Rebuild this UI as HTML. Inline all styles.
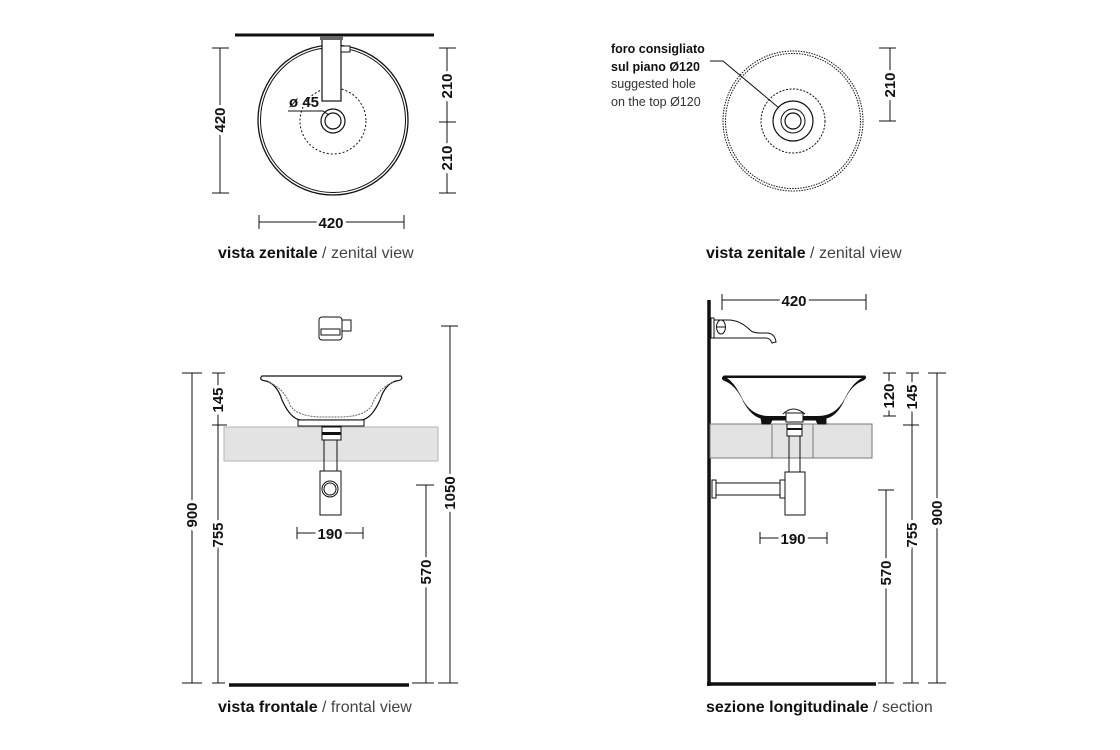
<!DOCTYPE html>
<html><head><meta charset="utf-8"><style>
html,body{margin:0;padding:0;background:#fff;}
svg{display:block;}
.d{font-family:"Liberation Sans Narrow","Liberation Sans",sans-serif;font-size:15px;fill:#111;font-weight:600;}
.t{font-family:"Liberation Sans Narrow","Liberation Sans",sans-serif;font-size:12.5px;fill:#111;}
.c{font-family:"Liberation Sans","DejaVu Sans",sans-serif;font-size:16px;fill:#111;}
.bg{paint-order:stroke;stroke:#fff;stroke-width:6px;}
</style></head><body>
<svg width="1120" height="750" viewBox="0 0 1120 750" xmlns="http://www.w3.org/2000/svg">
<g stroke="#111" fill="none" stroke-width="1">

<!-- ===== TOP LEFT ===== -->
<line x1="235" y1="35" x2="434" y2="35" stroke-width="3"/>
<circle cx="333" cy="120" r="75" stroke-width="1.3"/>
<circle cx="333" cy="120" r="72.5" stroke-width="1"/>
<circle cx="333" cy="121" r="33" stroke-dasharray="2,2"/>
<rect x="322" y="38" width="19" height="63" fill="#fff" stroke-width="1.2"/>
<rect x="320" y="36" width="23" height="4" fill="#666" stroke="none"/>
<rect x="341" y="46" width="9" height="6" fill="#fff"/>
<circle cx="333" cy="121" r="12" stroke-width="1.2"/>
<circle cx="333" cy="121" r="8" stroke-width="1.2"/>
<polyline points="288,111 323,111 329,115"/>
<line x1="220" y1="48" x2="220" y2="193"/>
<line x1="212" y1="48" x2="229" y2="48"/><line x1="212" y1="193" x2="229" y2="193"/>
<line x1="447" y1="48" x2="447" y2="193"/>
<line x1="439" y1="48" x2="456" y2="48"/><line x1="439" y1="122" x2="456" y2="122"/><line x1="439" y1="193" x2="456" y2="193"/>
<line x1="259" y1="222" x2="404" y2="222"/>
<line x1="259" y1="215" x2="259" y2="229"/><line x1="404" y1="215" x2="404" y2="229"/>

<!-- ===== TOP RIGHT ===== -->
<circle cx="793" cy="121" r="70" stroke-dasharray="1.5,1.2"/>
<circle cx="793" cy="121" r="67.5" stroke-dasharray="1.5,1.2"/>
<circle cx="793" cy="121" r="32" stroke-dasharray="2,1.5"/>
<circle cx="793" cy="121" r="20" stroke-width="1.2"/>
<circle cx="793" cy="121" r="12"/>
<circle cx="793" cy="121" r="8" stroke-width="1.2"/>
<polyline points="710,61 723,61 779,108"/>
<line x1="890" y1="48" x2="890" y2="121"/>
<line x1="879" y1="48" x2="896" y2="48"/><line x1="879" y1="121" x2="896" y2="121"/>

<!-- ===== BOTTOM LEFT ===== -->
<rect x="319" y="317" width="23" height="23" rx="3"/>
<rect x="321" y="329" width="19" height="6"/>
<rect x="342" y="320" width="9" height="11"/>
<rect x="224" y="427" width="214" height="34" fill="#e3e3e3" stroke="#b5b5b5"/>
<path d="M262,376 L401,376 Q404,380 396,381 Q385,384 380,400 Q372,418 362,420 L300,420 Q290,418 282,400 Q277,384 266,381 Q258,380 262,376 Z" fill="#fff" stroke-width="1.2"/>
<path d="M268,382 Q284,388 290,405 Q296,416 320,417 L342,417 Q366,416 372,405 Q378,388 394,382" stroke="#666" stroke-dasharray="2,1"/>
<rect x="298" y="420" width="66" height="6" fill="#fff"/>
<rect x="322" y="427" width="19" height="13" fill="#fff"/>
<rect x="322" y="432" width="19" height="3" fill="#111" stroke="none"/>
<line x1="324" y1="440" x2="324" y2="471"/><line x1="337" y1="440" x2="337" y2="471"/>
<rect x="320" y="471" width="21" height="44" fill="#fff"/>
<circle cx="330" cy="489" r="8"/><circle cx="330" cy="489" r="6"/>
<line x1="229" y1="685" x2="409" y2="685" stroke-width="3.5"/>
<line x1="192" y1="373" x2="192" y2="683"/>
<line x1="182" y1="373" x2="202" y2="373"/><line x1="182" y1="683" x2="202" y2="683"/>
<line x1="218" y1="373" x2="218" y2="683"/>
<line x1="212" y1="373" x2="225" y2="373"/><line x1="212" y1="425" x2="227" y2="425"/><line x1="212" y1="683" x2="225" y2="683"/>
<line x1="426" y1="485" x2="426" y2="683"/>
<line x1="416" y1="485" x2="434" y2="485"/><line x1="412" y1="683" x2="434" y2="683"/>
<line x1="450" y1="326" x2="450" y2="683"/>
<line x1="441" y1="326" x2="458" y2="326"/><line x1="438" y1="683" x2="458" y2="683"/>
<line x1="297" y1="533" x2="363" y2="533"/>
<line x1="297" y1="527" x2="297" y2="539"/><line x1="363" y1="527" x2="363" y2="539"/>

<!-- ===== BOTTOM RIGHT ===== -->
<line x1="709" y1="300" x2="709" y2="686" stroke-width="3.5"/>
<line x1="707" y1="684" x2="876" y2="684" stroke-width="3.5"/>
<rect x="711" y="318" width="3" height="20" fill="#fff"/>
<ellipse cx="721" cy="327" rx="4.5" ry="7" fill="#fff"/>
<line x1="716" y1="327" x2="726" y2="327"/>
<path d="M714,320 L728,320 Q740,320 750,330 Q753,333 760,333 L768,333 Q775,334 776,342 L772,343 Q770,338 766,338 L728,338 L714,338"/>
<rect x="710" y="424" width="162" height="34" fill="#e3e3e3" stroke="#777"/>
<line x1="772" y1="424" x2="772" y2="458" stroke="#777"/><line x1="813" y1="424" x2="813" y2="458" stroke="#777"/>
<path d="M724,376 L865,376 Q867,379 861,381 Q850,386 843,402 Q836,416 826,418 L826,424 L818,424 L816,420 L772,420 L770,424 L762,424 L761,418 Q752,416 744,402 Q737,386 726,381 Q720,379 724,376 Z" fill="#111"/>
<path d="M727,378 L862,378 Q852,383 844,400 Q835,416 818,416 L769,416 Q752,416 743,400 Q735,383 727,378 Z" fill="#fff" stroke="none"/>
<path d="M783,414 Q793,404 805,414" fill="#fff"/>
<rect x="786" y="413" width="17" height="9" fill="#fff"/>
<rect x="787" y="424" width="15" height="12" fill="#fff"/>
<line x1="787" y1="429" x2="802" y2="429" stroke-width="2"/>
<line x1="789" y1="436" x2="789" y2="472"/><line x1="800" y1="436" x2="800" y2="472"/>
<rect x="785" y="472" width="20" height="43" fill="#fff"/>
<rect x="780" y="480" width="5" height="18" fill="#fff"/>
<rect x="712" y="480" width="4" height="18" fill="#fff"/>
<line x1="716" y1="483" x2="780" y2="483"/><line x1="716" y1="495" x2="780" y2="495"/>
<line x1="722" y1="300" x2="866" y2="300"/>
<line x1="722" y1="294" x2="722" y2="310"/><line x1="866" y1="294" x2="866" y2="310"/>
<line x1="889" y1="373" x2="889" y2="416"/>
<line x1="883" y1="373" x2="896" y2="373"/><line x1="883" y1="416" x2="896" y2="416"/>
<line x1="912" y1="373" x2="912" y2="683"/>
<line x1="906" y1="373" x2="919" y2="373"/><line x1="903" y1="425" x2="919" y2="425"/><line x1="903" y1="683" x2="919" y2="683"/>
<line x1="937" y1="373" x2="937" y2="683"/>
<line x1="928" y1="373" x2="946" y2="373"/><line x1="928" y1="683" x2="946" y2="683"/>
<line x1="886" y1="490" x2="886" y2="683"/>
<line x1="878" y1="490" x2="894" y2="490"/><line x1="878" y1="683" x2="894" y2="683"/>
<line x1="760" y1="538" x2="827" y2="538"/>
<line x1="760" y1="532" x2="760" y2="544"/><line x1="827" y1="532" x2="827" y2="544"/>
</g>

<g class="d">
<text x="225" y="120" transform="rotate(-90 225 120)" text-anchor="middle" class="bg">420</text>
<text x="452" y="86" transform="rotate(-90 452 86)" text-anchor="middle" class="bg">210</text>
<text x="452" y="158" transform="rotate(-90 452 158)" text-anchor="middle" class="bg">210</text>
<text x="331" y="228" text-anchor="middle" class="bg">420</text>
<text x="289" y="107">ø 45</text>
<text x="895" y="85" transform="rotate(-90 895 85)" text-anchor="middle" class="bg">210</text>

<text x="197" y="515" transform="rotate(-90 197 515)" text-anchor="middle" class="bg">900</text>
<text x="223" y="400" transform="rotate(-90 223 400)" text-anchor="middle" class="bg">145</text>
<text x="223" y="535" transform="rotate(-90 223 535)" text-anchor="middle" class="bg">755</text>
<text x="431" y="572" transform="rotate(-90 431 572)" text-anchor="middle" class="bg">570</text>
<text x="455" y="493" transform="rotate(-90 455 493)" text-anchor="middle" class="bg">1050</text>
<text x="330" y="539" text-anchor="middle" class="bg">190</text>

<text x="794" y="306" text-anchor="middle" class="bg">420</text>
<text x="894" y="396" transform="rotate(-90 894 396)" text-anchor="middle" class="bg">120</text>
<text x="917" y="397" transform="rotate(-90 917 397)" text-anchor="middle" class="bg">145</text>
<text x="942" y="513" transform="rotate(-90 942 513)" text-anchor="middle" class="bg">900</text>
<text x="917" y="535" transform="rotate(-90 917 535)" text-anchor="middle" class="bg">755</text>
<text x="891" y="573" transform="rotate(-90 891 573)" text-anchor="middle" class="bg">570</text>
<text x="793" y="544" text-anchor="middle" class="bg">190</text>
</g>

<g class="t">
<text x="611" y="53" font-weight="bold">foro consigliato</text>
<text x="611" y="71" font-weight="bold">sul piano Ø120</text>
<text x="611" y="88" fill="#333">suggested hole</text>
<text x="611" y="106" fill="#333">on the top Ø120</text>
</g>

<g class="c">
<text x="218" y="258"><tspan font-weight="bold">vista zenitale</tspan><tspan fill="#444"> / zenital view</tspan></text>
<text x="706" y="258"><tspan font-weight="bold">vista zenitale</tspan><tspan fill="#444"> / zenital view</tspan></text>
<text x="218" y="712"><tspan font-weight="bold">vista frontale</tspan><tspan fill="#444"> / frontal view</tspan></text>
<text x="706" y="712"><tspan font-weight="bold">sezione longitudinale</tspan><tspan fill="#444"> / section</tspan></text>
</g>
</svg>
</body></html>
